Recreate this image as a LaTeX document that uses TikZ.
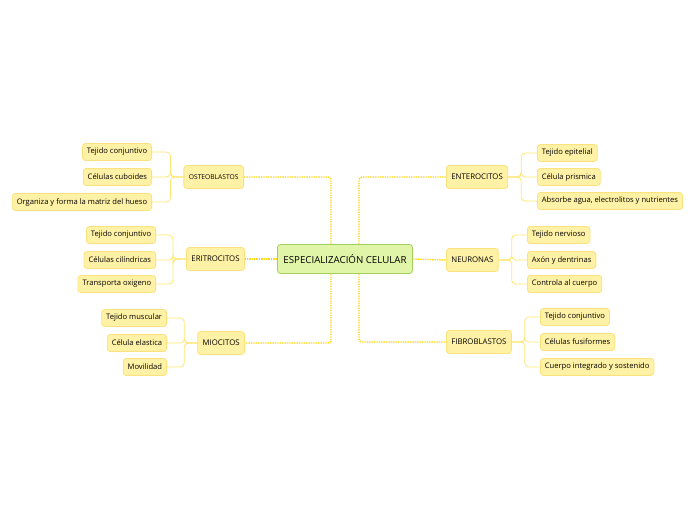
\documentclass[tikz,border=0pt]{standalone}
\usepackage{fontspec}
\setmainfont{Open Sans}
\definecolor{leaffill}{HTML}{FFF2A6}
\definecolor{leafdraw}{HTML}{FCE27C}
\definecolor{linkyel}{HTML}{FFE66E}
\definecolor{dotyel}{HTML}{FFD414}
\definecolor{rootfill}{HTML}{E1F5A9}
\definecolor{rootdraw}{HTML}{A3CF5E}
\begin{document}
\begin{tikzpicture}[x=1pt,y=-1pt,
  root/.style={draw=rootdraw, line width=0.8pt, fill=rootfill, rounded corners=3pt, minimum height=29pt, inner xsep=6pt, font=\fontsize{9.7}{11}\selectfont},
  cell/.style={draw=leafdraw, line width=0.8pt, fill=leaffill, rounded corners=3pt, minimum height=23pt, inner xsep=5pt, font=\fontsize{7.8}{9}\selectfont},
  leaf/.style={draw=leafdraw, line width=0.8pt, fill=leaffill, rounded corners=3pt, minimum height=17pt, inner xsep=4.5pt, font=\fontsize{7.6}{9}\selectfont},
  dotlink/.style={draw=dotyel, line width=1.4pt, dash pattern=on 1.4pt off 1pt, rounded corners=3pt},
  leaflink/.style={draw=linkyel, line width=0.8pt, rounded corners=4pt}]
\useasboundingbox (0,0) rectangle (696,520);

\node[root] (c) at (345,259) {ESPECIALIZACIÓN CELULAR};

\node[cell, anchor=east, font=\fontsize{6.7}{8}\selectfont] (ost) at (244,177) {OSTEOBLASTOS};
\node[cell, anchor=east] (eri) at (245,259) {ERITROCITOS};
\node[cell, anchor=east] (mio) at (245,343) {MIOCITOS};
\node[cell, anchor=west] (ent) at (446,177) {ENTEROCITOS};
\node[cell, anchor=west] (neu) at (446,260) {NEURONAS};
\node[cell, anchor=west] (fib) at (446,342) {FIBROBLASTOS};

% osteoblastos
\node[leaf, anchor=east] (ost1) at (152,152) {Tejido conjuntivo};
\node[leaf, anchor=east] (ost2) at (152,177) {Células cuboides};
\node[leaf, anchor=east] (ost3) at (152,202) {Organiza y forma la matriz del hueso};

% eritrocitos
\node[leaf, anchor=east] (eri1) at (156,235) {Tejido conjuntivo};
\node[leaf, anchor=east] (eri2) at (156,260) {Células cilíndricas};
\node[leaf, anchor=east] (eri3) at (156,284) {Transporta oxigeno};

% miocitos
\node[leaf, anchor=east] (mio1) at (167,318) {Tejido muscular};
\node[leaf, anchor=east] (mio2) at (167,343) {Célula elastica};
\node[leaf, anchor=east] (mio3) at (167,367) {Movilidad};

% enterocitos
\node[leaf, anchor=west] (ent1) at (537,153) {Tejido epitelial};
\node[leaf, anchor=west] (ent2) at (537,177) {Célula prismica};
\node[leaf, anchor=west] (ent3) at (537,201) {Absorbe agua, electrolitos y nutrientes};

% neuronas
\node[leaf, anchor=west] (neu1) at (527,235) {Tejido nervioso};
\node[leaf, anchor=west] (neu2) at (527,260) {Axón y dentrinas};
\node[leaf, anchor=west] (neu3) at (527,284) {Controla al cuerpo};

% fibroblastos
\node[leaf, anchor=west] (fib1) at (540,317) {Tejido conjuntivo};
\node[leaf, anchor=west] (fib2) at (540,342) {Células fusiformes};
\node[leaf, anchor=west] (fib3) at (540,367) {Cuerpo integrado y sostenido};

\draw[dotlink] ([xshift=-14pt]c.north) |- (ost.east);
\draw[dotlink] (c.west) -- (eri.east);
\draw[dotlink] ([xshift=-14pt]c.south) |- (mio.east);
\draw[dotlink] ([xshift=14pt]c.north) |- (ent.west);
\draw[dotlink] (c.east) -- (neu.west);
\draw[dotlink] ([xshift=14pt]c.south) |- (fib.west);

\foreach \p in {ost,eri,mio}
  \foreach \k in {1,2,3}
    \draw[leaflink] (\p.west) -- ++(-13pt,0) |- (\p\k.east);
\foreach \p in {ent,neu,fib}
  \foreach \k in {1,2,3}
    \draw[leaflink] (\p.east) -- ++(13pt,0) |- (\p\k.west);
\end{tikzpicture}
\end{document}
